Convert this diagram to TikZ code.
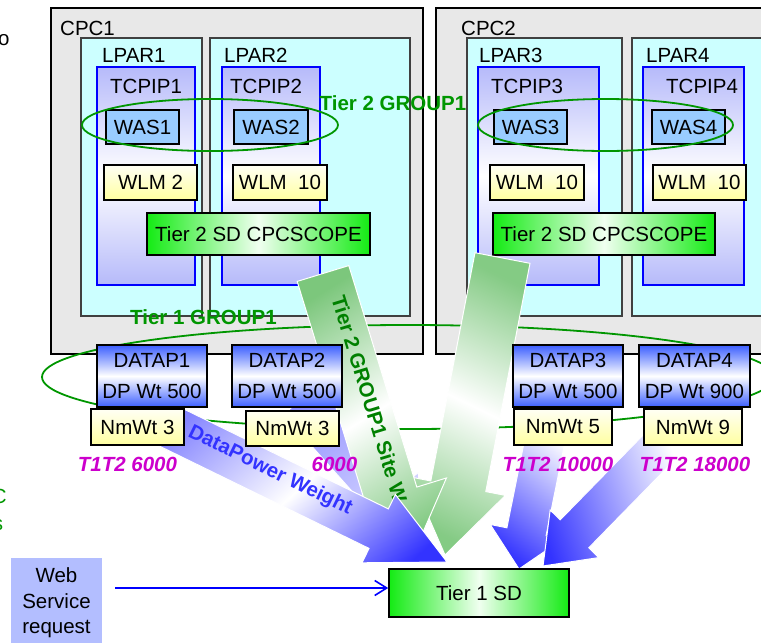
\documentclass[tikz,border=0pt]{standalone}
\usepackage{fontspec}
\setmainfont{Liberation Sans}
\usetikzlibrary{arrows.meta}

\definecolor{cpcgray}{RGB}{232,232,232}
\definecolor{lparcyan}{RGB}{204,255,255}
\definecolor{tcpipblue}{RGB}{182,186,250}
\definecolor{wasblue}{RGB}{153,204,255}
\definecolor{wlmyellow}{RGB}{255,255,160}
\definecolor{sdgreen}{RGB}{20,235,20}
\definecolor{dpblue}{RGB}{60,95,255}
\definecolor{grpgreen}{RGB}{0,150,0}
\definecolor{wtmagenta}{RGB}{204,0,204}
\definecolor{wsblue}{RGB}{179,190,255}
\definecolor{arrowblue}{RGB}{51,51,255}
\definecolor{arrowgreen}{RGB}{80,180,80}

\tikzset{
  cpcbox/.style={draw=black, line width=1.6pt, fill=cpcgray, inner sep=0pt},
  lparbox/.style={draw=black!75, line width=1.2pt, fill=lparcyan, inner sep=0pt},
  tcpipbox/.style={draw=blue, line width=1.6pt, top color=tcpipblue, bottom color=tcpipblue, middle color=white, inner sep=0pt},
  wasbox/.style={draw=black, line width=1.6pt, fill=wasblue, inner sep=0pt},
  wlmbox/.style={draw=black, line width=1.6pt, top color=yellow!4, bottom color=wlmyellow, inner sep=0pt},
  sdbox/.style={draw=black, line width=1.6pt, left color=sdgreen, right color=sdgreen, middle color=green!6, inner sep=0pt},
  dpbox/.style={draw=black, line width=1.6pt, top color=dpblue, bottom color=dpblue, middle color=white, inner sep=0pt, align=center, font=\fontsize{20.5}{31}\selectfont},
  wsbox/.style={fill=wsblue, inner sep=0pt, align=center, font=\fontsize{20.5}{25.5}\selectfont},
  lbl/.style={inner sep=0pt},
  grplbl/.style={inner sep=0pt, text=grpgreen, font=\fontsize{20.5}{24}\selectfont\bfseries},
  wtlbl/.style={inner sep=0pt, text=wtmagenta, font=\fontsize{20.5}{24}\selectfont\bfseries\itshape},
  grpring/.style={draw=grpgreen, line width=1.8pt},
  fatedge/.style={draw=white, line width=1pt},
  reqarrow/.style={draw=blue, line width=1.6pt, -{Straight Barb[length=12pt,width=15pt]}},
}

\newcommand{\fatarrow}[7]{%
  \begin{scope}[transform canvas={shift={(#2)}, rotate=#3}]
    \shade[fatedge, #1] (0,-#5) -- ({#4-#7},-#5) -- ({#4-#7},-#6) -- (#4,0)
      -- ({#4-#7},#6) -- ({#4-#7},#5) -- (0,#5) -- cycle;
  \end{scope}}

\begin{document}
\begin{tikzpicture}[x=1pt, y=-1pt, every node/.style={font=\fontsize{20.5}{24}\selectfont}]
  \useasboundingbox (0,0) rectangle (761,643);

  \node[cpcbox, minimum width=372pt, minimum height=346pt] (cpc1) at (237,181) {};
  \node[cpcbox, minimum width=336pt, minimum height=346pt] (cpc2) at (604,181) {};
  \node[lbl, anchor=base west] (cpc1-lbl) at (60,35) {CPC1};
  \node[lbl, anchor=base west] (cpc2-lbl) at (461,35) {CPC2};

  \node[lparbox, minimum width=121pt, minimum height=278pt] (lpar1) at (141.5,177) {};
  \node[lparbox, minimum width=200pt, minimum height=278pt] (lpar2) at (310,177) {};
  \node[lparbox, minimum width=155pt, minimum height=278pt] (lpar3) at (544.5,177) {};
  \node[lparbox, minimum width=140pt, minimum height=278pt] (lpar4) at (702,177) {};
  \node[lbl, anchor=base west] (lpar1-lbl) at (102,62) {LPAR1};
  \node[lbl, anchor=base west] (lpar2-lbl) at (224,62) {LPAR2};
  \node[lbl, anchor=base west] (lpar3-lbl) at (479,62) {LPAR3};
  \node[lbl, anchor=base west] (lpar4-lbl) at (646,62) {LPAR4};

  \node[tcpipbox, minimum width=98pt, minimum height=218pt] (tcpip1) at (146,176) {};
  \node[tcpipbox, minimum width=98pt, minimum height=218pt] (tcpip2) at (271,176) {};
  \node[tcpipbox, minimum width=121pt, minimum height=218pt] (tcpip3) at (538.5,176) {};
  \node[tcpipbox, minimum width=101pt, minimum height=218pt] (tcpip4) at (693.5,176) {};
  \node[lbl, anchor=base west] (tcpip1-lbl) at (110,93) {TCPIP1};
  \node[lbl, anchor=base west] (tcpip2-lbl) at (230,93) {TCPIP2};
  \node[lbl, anchor=base west] (tcpip3-lbl) at (491,93) {TCPIP3};
  \node[lbl, anchor=base west] (tcpip4-lbl) at (666,93) {TCPIP4};

  \node[wasbox, minimum width=73pt, minimum height=34pt] (was1) at (142.5,127) {WAS1};
  \node[wasbox, minimum width=74pt, minimum height=34pt] (was2) at (271,127) {WAS2};
  \node[wasbox, minimum width=73pt, minimum height=34pt] (was3) at (530.5,127) {WAS3};
  \node[wasbox, minimum width=73pt, minimum height=34pt] (was4) at (688.5,127) {WAS4};

  \node[wlmbox, minimum width=93pt, minimum height=35pt] (wlm1) at (150.5,182.5) {WLM 2};
  \node[wlmbox, minimum width=94pt, minimum height=35pt] (wlm2) at (280,182.5) {WLM\ \ 10};
  \node[wlmbox, minimum width=94pt, minimum height=35pt] (wlm3) at (537,182.5) {WLM\ \ 10};
  \node[wlmbox, minimum width=93pt, minimum height=35pt] (wlm4) at (699.5,182.5) {WLM\ \ 10};

  \node[sdbox, minimum width=223pt, minimum height=42pt] (sd2a) at (258.5,234) {Tier 2 SD CPCSCOPE};
  \node[sdbox, minimum width=222pt, minimum height=42pt] (sd2b) at (604,234) {Tier 2 SD CPCSCOPE};

  \draw[grpring] (210,125) ellipse [x radius=128pt, y radius=26pt];
  \draw[grpring] (605.5,125) ellipse [x radius=127.5pt, y radius=26pt];
  \node[grplbl] (t2grp-lbl) at (393,103) {Tier 2 GROUP1};

  \draw[grpring] (408,377) ellipse [x radius=366pt, y radius=52pt];
  \node[grplbl, anchor=west] (t1grp-lbl) at (130,317.5) {Tier 1 GROUP1};

  \coordinate (a6-tail) at (300,400);
  \coordinate (g2-tail) at (502.5,258);
  \coordinate (g1-tail) at (323,273.5);
  \coordinate (dpw-tail) at (150,417);
  \coordinate (a4-tail) at (548,425);
  \coordinate (a5-tail) at (676,430);

  \fatarrow{left color=arrowblue!55, right color=arrowblue!10}{a6-tail}{-48.24}{187.7}{22}{40}{55}
  \fatarrow{top color=arrowgreen!70, bottom color=arrowgreen!70, middle color=white, shading angle=75}{g2-tail}{-100.96}{302.5}{28}{48}{70}
  \fatarrow{top color=arrowgreen!75, bottom color=arrowgreen!75, middle color=white, shading angle=-75}{g1-tail}{-72.93}{299.7}{27}{58}{68}
  \node[grplbl, text=green!50!black, rotate=-73, anchor=base west] (g1-lbl) at (331,298) {Tier 2 GROUP1 Site W};
  \fatarrow{left color=arrowblue!60, right color=arrowblue, middle color=white, shading angle=68}{dpw-tail}{-26.02}{330.5}{22}{38}{76}
  \node[grplbl, text=arrowblue, rotate=-26, anchor=base west] (dpw-lbl) at (187,436) {DataPower Weight};
  \fatarrow{left color=white, right color=arrowblue, shading angle=63}{a4-tail}{-101.39}{146.9}{20}{37}{38}
  \fatarrow{left color=white, right color=arrowblue, shading angle=63}{a5-tail}{-134.36}{190.2}{20}{34}{45}

  \node[dpbox, minimum width=110pt, minimum height=62pt] (dp1) at (152,376) {DATAP1\\DP Wt 500};
  \node[dpbox, minimum width=110pt, minimum height=62pt] (dp2) at (287,376) {DATAP2\\DP Wt 500};
  \node[dpbox, minimum width=110pt, minimum height=62pt] (dp3) at (568,376) {DATAP3\\DP Wt 500};
  \node[dpbox, minimum width=111pt, minimum height=62pt] (dp4) at (694.5,376) {DATAP4\\DP Wt 900};

  \node[wlmbox, minimum width=93pt, minimum height=36pt] (nm1) at (137.5,427) {NmWt 3};
  \node[wlmbox, minimum width=93pt, minimum height=35pt] (nm2) at (292.5,428.5) {NmWt 3};
  \node[wlmbox, minimum width=98pt, minimum height=36pt] (nm3) at (563,427) {NmWt 5};
  \node[wlmbox, minimum width=98pt, minimum height=36pt] (nm4) at (693,427) {NmWt 9};

  \node[wtlbl] (wt1) at (127.5,464) {T1T2 6000};
  \node[wtlbl] (wt2) at (334.5,464) {6000};
  \node[wtlbl] (wt3) at (558,464) {T1T2 10000};
  \node[wtlbl] (wt4) at (695,464) {T1T2 18000};

  \node[wsbox, minimum width=91pt, minimum height=90pt] (wsr) at (56.5,603) {Web\\Service\\request};
  \node[sdbox, minimum width=180pt, minimum height=48pt] (tier1) at (479,593) {Tier 1 SD};
  \coordinate (req-start) at (115,588);
  \draw[reqarrow] (req-start) -- (tier1.west |- req-start);

  \node[lbl, anchor=base east] (frag-o) at (9.8,45) {o};
  \node[lbl, anchor=base east, text=grpgreen] (frag-c) at (7,503) {C};
  \node[lbl, anchor=base east, text=grpgreen] (frag-s) at (3.3,530) {s};
\end{tikzpicture}
\end{document}
